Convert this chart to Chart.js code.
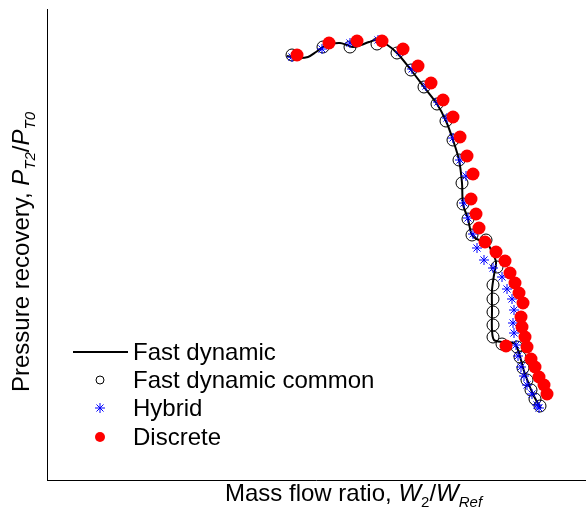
<!DOCTYPE html>
<html>
<head>
<meta charset="utf-8">
<script src="https://cdn.jsdelivr.net/npm/chart.js@4/dist/chart.umd.min.js"></script>
<style>
  html, body { margin: 0; padding: 0; background: #fff; }
  #wrap { position: relative; width: 587px; height: 516px; font-family: "Liberation Sans", Arial, sans-serif; color: #000; }
  #plot { position: absolute; left: 0; top: 0; }
  .t { position: absolute; white-space: nowrap; font-size: 24px; line-height: 24px; }
  .i { font-style: italic; }
  .s { font-size: 15px; position: relative; top: 6px; }
  #ytitle { transform-origin: 0 0; transform: rotate(-90deg); }
</style>
</head>
<body>
<div id="wrap">
  <canvas id="plot" width="587" height="516"></canvas>
  <div class="t" id="xtitle" style="left:225px; top:481px;">Mass flow ratio, <span class="i">W</span><span class="s">2</span><span>/</span><span class="i">W</span><span class="s i">Ref</span></div>
  <div class="t" id="ytitle" style="left:9px; top:392px;">Pressure recovery, <span class="i">P</span><span class="s i">T2</span><span>/</span><span class="i">P</span><span class="s i">T0</span></div>
  <div class="t" style="left:133px; top:340px;">Fast dynamic</div>
  <div class="t" style="left:133px; top:368px;">Fast dynamic common</div>
  <div class="t" style="left:133px; top:396px;">Hybrid</div>
  <div class="t" style="left:133px; top:425px;">Discrete</div>
</div>
<script>
// Fast dynamic simulation (continuous trace)
const fastFlow = [0.690, 0.701, 0.711, 0.719, 0.726, 0.734, 0.743, 0.750, 0.756, 0.764, 0.772, 0.780, 0.789, 0.800, 0.814, 0.827, 0.840, 0.849, 0.856, 0.862, 0.865, 0.866, 0.871, 0.875, 0.882, 0.889, 0.894, 0.899, 0.897, 0.895, 0.895, 0.895, 0.897, 0.906, 0.917, 0.921, 0.924, 0.927, 0.931, 0.935, 0.939, 0.944];
const fastRecovery = [0.9765, 0.9755, 0.976, 0.9785, 0.981, 0.9825, 0.983, 0.982, 0.981, 0.982, 0.9835, 0.9845, 0.9825, 0.978, 0.9695, 0.961, 0.9525, 0.944, 0.9345, 0.9245, 0.913, 0.9025, 0.895, 0.887, 0.8845, 0.884, 0.8795, 0.8735, 0.867, 0.8595, 0.8495, 0.8395, 0.8345, 0.8335, 0.833, 0.8295, 0.8245, 0.819, 0.8135, 0.8085, 0.8045, 0.8005];

// Fast dynamic, sampled at the common operating points
const commonFlow = [0.695, 0.726, 0.753, 0.780, 0.800, 0.814, 0.827, 0.840, 0.849, 0.856, 0.862, 0.865, 0.866, 0.871, 0.875, 0.889, 0.900, 0.896, 0.896, 0.896, 0.896, 0.896, 0.905, 0.920, 0.923, 0.926, 0.930, 0.934, 0.938, 0.943];
const commonRecovery = [0.977, 0.981, 0.981, 0.9825, 0.978, 0.9695, 0.961, 0.9525, 0.944, 0.9345, 0.9245, 0.913, 0.9025, 0.895, 0.887, 0.8845, 0.871, 0.862, 0.855, 0.8485, 0.842, 0.836, 0.8325, 0.831, 0.826, 0.8205, 0.8145, 0.8095, 0.805, 0.8015];

// Hybrid model
const hybridFlow = [0.695, 0.725, 0.753, 0.781, 0.803, 0.815, 0.829, 0.841, 0.850, 0.856, 0.863, 0.869, 0.867, 0.871, 0.876, 0.880, 0.887, 0.896, 0.905, 0.910, 0.915, 0.917, 0.916, 0.917, 0.919, 0.921, 0.924, 0.927, 0.930, 0.935, 0.940, 0.942];
const hybridRecovery = [0.976, 0.980, 0.983, 0.9845, 0.9785, 0.970, 0.9615, 0.9535, 0.9455, 0.9355, 0.9245, 0.9165, 0.903, 0.8955, 0.8875, 0.8805, 0.8745, 0.8705, 0.866, 0.860, 0.855, 0.8495, 0.843, 0.838, 0.832, 0.8265, 0.821, 0.8165, 0.812, 0.8075, 0.802, 0.8005];

// Discrete model
const discreteFlow = [0.700, 0.732, 0.760, 0.785, 0.806, 0.821, 0.834, 0.846, 0.856, 0.863, 0.870, 0.876, 0.874, 0.879, 0.882, 0.888, 0.899, 0.908, 0.913, 0.918, 0.922, 0.926, 0.924, 0.925, 0.928, 0.930, 0.909, 0.934, 0.938, 0.942, 0.947, 0.950];
const discreteRecovery = [0.977, 0.983, 0.984, 0.984, 0.980, 0.9715, 0.963, 0.9545, 0.946, 0.936, 0.9265, 0.9175, 0.905, 0.8975, 0.8905, 0.8835, 0.8785, 0.874, 0.868, 0.863, 0.858, 0.853, 0.846, 0.841, 0.836, 0.831, 0.8315, 0.825, 0.821, 0.816, 0.812, 0.8075];

const toPoints = (xs, ys) => xs.map((x, k) => ({ x: x, y: ys[k] }));

// Legend drawn in the lower-left corner of the plot
const cornerLegend = {
  id: 'cornerLegend',
  afterDraw(chart) {
    const ctx = chart.ctx;
    const rows = [352, 380, 408, 437];
    const sizes = [4, 5, 5];
    ctx.save();
    ctx.strokeStyle = '#000';
    ctx.lineWidth = 2;
    ctx.beginPath();
    ctx.moveTo(73, rows[0]);
    ctx.lineTo(128, rows[0]);
    ctx.stroke();
    chart.data.datasets.slice(1).forEach((ds, k) => {
      ctx.fillStyle = ds.backgroundColor;
      ctx.strokeStyle = ds.borderColor;
      ctx.lineWidth = ds.borderWidth;
      Chart.helpers.drawPoint(ctx, { pointStyle: ds.pointStyle, radius: sizes[k], borderWidth: ds.borderWidth, rotation: 0 }, 100, rows[k + 1]);
    });
    ctx.restore();
  }
};

new Chart(document.getElementById('plot'), {
  type: 'scatter',
  data: {
    datasets: [
      {
        label: 'Fast dynamic',
        data: toPoints(fastFlow, fastRecovery),
        showLine: true,
        borderColor: '#000',
        borderWidth: 2,
        pointRadius: 0,
        tension: 0.3,
        order: 4
      },
      {
        label: 'Fast dynamic common',
        data: toPoints(commonFlow, commonRecovery),
        pointStyle: 'circle',
        pointRadius: 6,
        backgroundColor: 'rgba(0,0,0,0)',
        borderColor: '#000',
        borderWidth: 1,
        order: 3
      },
      {
        label: 'Hybrid',
        data: toPoints(hybridFlow, hybridRecovery),
        pointStyle: 'star',
        pointRadius: 5,
        backgroundColor: '#0000ff',
        borderColor: '#0000ff',
        borderWidth: 1,
        order: 2
      },
      {
        label: 'Discrete',
        data: toPoints(discreteFlow, discreteRecovery),
        pointStyle: 'circle',
        pointRadius: 6.5,
        backgroundColor: '#ff0000',
        borderColor: '#ff0000',
        borderWidth: 0,
        order: 1
      }
    ]
  },
  options: {
    responsive: false,
    animation: false,
    devicePixelRatio: 1,
    layout: { autoPadding: false, padding: { left: 47, top: 9, right: 2, bottom: 36 } },
    plugins: { legend: { display: false }, tooltip: { enabled: false } },
    scales: {
      x: {
        type: 'linear', min: 0.45, max: 0.988,
        ticks: { display: false },
        grid: { display: false, drawTicks: false },
        border: { display: true, color: '#000', width: 1 }
      },
      y: {
        type: 'linear', min: 0.7645, max: 1.0,
        ticks: { display: false },
        grid: { display: false, drawTicks: false },
        border: { display: true, color: '#000', width: 1 }
      }
    }
  },
  plugins: [cornerLegend]
});
</script>
</body>
</html>
